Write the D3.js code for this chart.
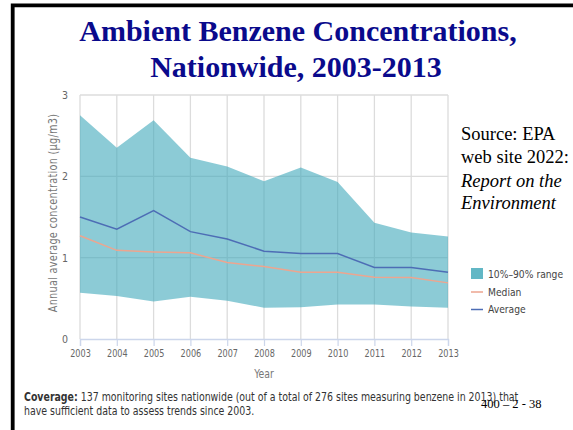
<!DOCTYPE html>
<html><head><meta charset="utf-8">
<script src="https://cdn.jsdelivr.net/npm/d3@7"></script>
<style>
body{margin:0;background:#fff;}
svg{display:block;}
</style></head>
<body>
<svg id="c" width="573" height="430"></svg>
<script>
const years = [2003,2004,2005,2006,2007,2008,2009,2010,2011,2012,2013];
const p90 = [2.75,2.35,2.69,2.23,2.12,1.94,2.11,1.93,1.43,1.31,1.26];
const p10 = [0.57,0.53,0.46,0.52,0.47,0.385,0.39,0.425,0.425,0.40,0.385];
const median = [1.27,1.09,1.07,1.06,0.94,0.89,0.82,0.82,0.76,0.755,0.69];
const average = [1.50,1.35,1.58,1.32,1.23,1.08,1.05,1.05,0.88,0.88,0.82];
const yTicks = [0,1,2,3];
const legendLabels = ["10%\u201390% range","Median","Average"];

const svg = d3.select("#c");
const chartFont = "'Liberation Sans Narrow','DejaVu Sans Condensed','Open Sans',sans-serif";

// frame
svg.append("path").attr("d","M12.7,440 L12.7,5.3 L580,5.3").attr("fill","none").attr("stroke","#000").attr("stroke-width",3.8);

// title
const title = svg.append("text").attr("text-anchor","middle")
  .attr("font-family","'Liberation Serif','DejaVu Serif',serif").attr("font-weight","bold")
  .attr("font-size",30).attr("fill","#0a0a8c");
title.append("tspan").attr("x",298).attr("y",41).text("Ambient Benzene Concentrations,");
title.append("tspan").attr("x",296).attr("y",77).text("Nationwide, 2003-2013");

const x = d3.scaleLinear().domain([2003,2013]).range([80,448]);
const y = d3.scaleLinear().domain([0,3]).range([339,95]);

// grid
const g = svg.append("g");
g.selectAll("line.v").data(years).join("line")
  .attr("x1",d=>x(d)).attr("x2",d=>x(d)).attr("y1",y(3)).attr("y2",y(0))
  .attr("stroke","#dcdcdc").attr("stroke-width",1.3);
g.selectAll("line.h").data(yTicks.filter(d=>d>0)).join("line")
  .attr("x1",x(2003)).attr("x2",x(2013)).attr("y1",d=>y(d)).attr("y2",d=>y(d))
  .attr("stroke","#dcdcdc").attr("stroke-width",1.3);

// area
const data = years.map((yr,i)=>({yr,lo:p10[i],hi:p90[i],med:median[i],avg:average[i]}));
svg.append("path").datum(data)
  .attr("d",d3.area().x(d=>x(d.yr)).y0(d=>y(d.lo)).y1(d=>y(d.hi)))
  .attr("fill","#3fa9bb").attr("fill-opacity",0.6);

svg.append("path").datum(data)
  .attr("d",d3.line().x(d=>x(d.yr)).y(d=>y(d.med)))
  .attr("fill","none").attr("stroke","#eda58f").attr("stroke-width",1.5);
svg.append("path").datum(data)
  .attr("d",d3.line().x(d=>x(d.yr)).y(d=>y(d.avg)))
  .attr("fill","none").attr("stroke","#4d6db5").attr("stroke-width",1.5);

// x axis
const xAxis = svg.append("g").attr("transform",`translate(0,${y(0)})`)
  .call(d3.axisBottom(x).tickValues(years).tickFormat(d3.format("d")).tickSize(7).tickPadding(3));
xAxis.select(".domain").attr("stroke","#ccd6eb").attr("stroke-width",1.3);
xAxis.selectAll(".tick line").attr("stroke","#ccd6eb").attr("stroke-width",1.2);
xAxis.selectAll(".tick text").attr("fill","#666").attr("font-size",11).attr("font-family",chartFont)
  .attr("transform","scale(0.82,1)");

// y axis labels
const yAxis = svg.append("g").attr("transform",`translate(${x(2003)},0)`)
  .call(d3.axisLeft(y).tickValues(yTicks).tickFormat(d3.format("d")).tickSize(0).tickPadding(12));
yAxis.select(".domain").remove();
yAxis.selectAll(".tick text").attr("fill","#666").attr("font-size",10.5).attr("font-family",chartFont);

// axis titles
svg.append("text").attr("transform","translate(57,213) rotate(-90) scale(0.9,1)").attr("text-anchor","middle")
  .attr("font-family",chartFont).attr("font-size",12).attr("fill","#777").attr("letter-spacing",0.3)
  .text("Annual average concentration (\u00b5g/m3)");
svg.append("text").attr("transform","translate(264,378) scale(0.9,1)").attr("text-anchor","middle")
  .attr("font-family",chartFont).attr("font-size",11.5).attr("fill","#777").text("Year");

// legend
const lg = svg.append("g").attr("font-family",chartFont).attr("font-size",11).attr("fill","#444");
lg.append("rect").attr("x",471).attr("y",268).attr("width",12).attr("height",11).attr("fill","#62b7c5");
lg.append("line").attr("x1",471).attr("x2",483).attr("y1",292).attr("y2",292).attr("stroke","#eda58f").attr("stroke-width",1.5);
lg.append("line").attr("x1",471).attr("x2",483).attr("y1",309.5).attr("y2",309.5).attr("stroke","#4d6db5").attr("stroke-width",1.5);
lg.selectAll("text").data(legendLabels).join("text")
  .attr("transform",(d,i)=>`translate(488,${[278,295.5,313][i]}) scale(0.93,1)`).text(d=>d);

// source note
const src = svg.append("text").attr("font-family","'Liberation Serif',serif").attr("font-size",18.5).attr("fill","#000");
src.append("tspan").attr("x",461).attr("y",139.5).text("Source: EPA");
src.append("tspan").attr("x",461).attr("y",163).text("web site 2022:");
src.append("tspan").attr("x",461).attr("y",186.5).attr("font-style","italic").text("Report on the");
src.append("tspan").attr("x",461).attr("y",208.5).attr("font-style","italic").text("Environment");

// coverage
const cov = svg.append("text").attr("transform","translate(24,0) scale(0.91,1)")
  .attr("font-family",chartFont).attr("font-size",11.5).attr("fill","#333");
const l1 = cov.append("tspan").attr("x",0).attr("y",401.5);
l1.append("tspan").attr("font-weight","bold").text("Coverage:");
l1.append("tspan").text(" 137 monitoring sites nationwide (out of a total of 276 sites measuring benzene in 2013) that");
cov.append("tspan").attr("x",0).attr("y",415).text("have sufficient data to assess trends since 2003.");

svg.append("text").attr("x",481).attr("y",408).attr("font-family","'Liberation Serif',serif")
  .attr("font-size",12.5).attr("fill","#000").text("400 \u2013 2 - 38");
</script>
</body></html>
